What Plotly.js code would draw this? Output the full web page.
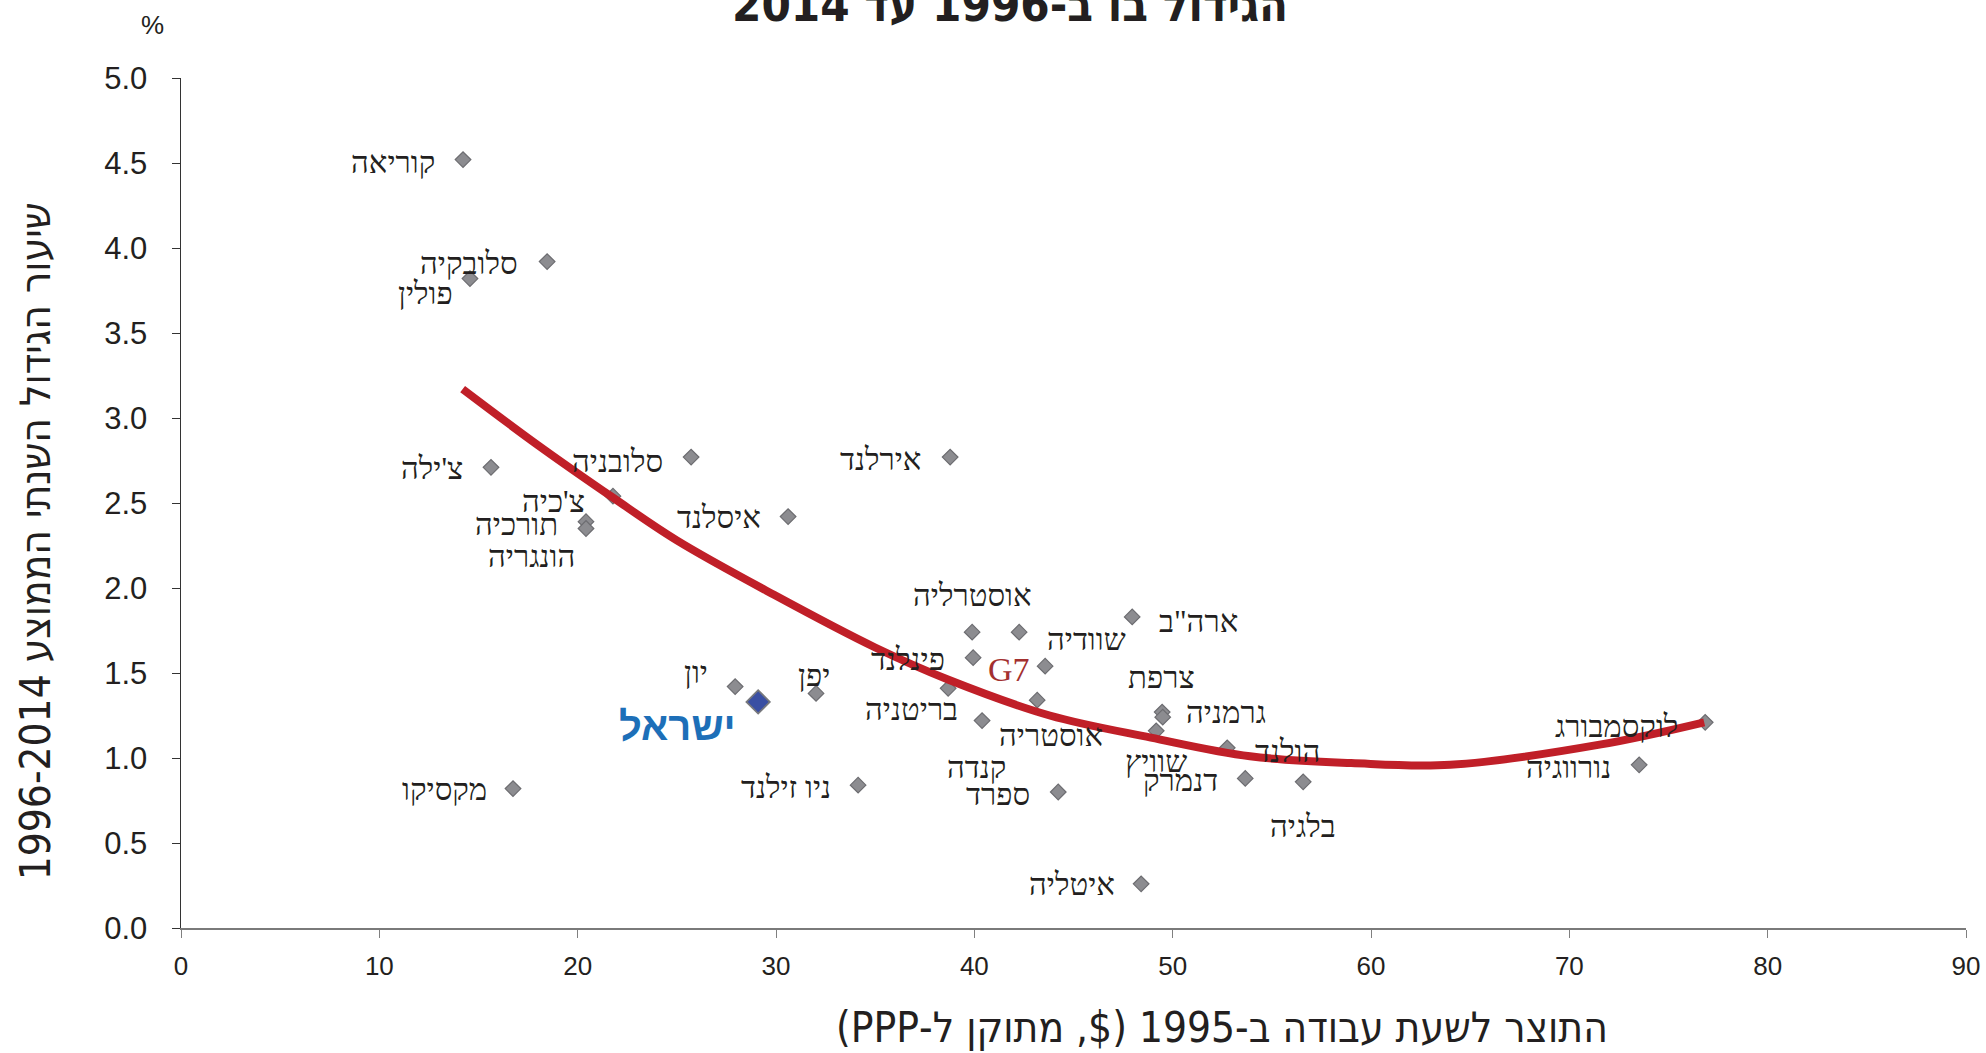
<!DOCTYPE html>
<html>
<head>
<meta charset="utf-8">
<script src="https://cdn.plot.ly/plotly-3.0.1.min.js"></script>
<style>html,body{margin:0;padding:0;background:#fff;}#chart{width:1986px;height:1053px;}</style>
</head>
<body>
<div id="chart"></div>
<script>
// ---- data ----
const countries = ["קוריאה","סלובקיה","פולין","צ'ילה","סלובניה","צ'כיה","תורכיה","הונגריה","איסלנד","אירלנד","אוסטרליה","שוודיה","ארה\"ב","פינלנד","בריטניה","קנדה","אוסטריה","יון","יפן","ניו זילנד","ספרד","מקסיקו","איטליה","צרפת","גרמניה","שוויץ","הולנד","דנמרק","בלגיה","לוקסמבורג","נורווגיה"];
const productivity1995 = [14.22,18.46,14.57,15.63,25.72,21.78,20.42,20.42,30.61,38.78,39.89,42.26,47.96,39.94,38.68,43.17,40.39,27.94,32.02,34.14,44.23,16.74,48.41,49.47,49.5,49.17,52.75,53.66,56.58,76.85,73.52];
const growth = [4.52,3.92,3.82,2.71,2.77,2.54,2.39,2.35,2.42,2.77,1.74,1.74,1.83,1.59,1.41,1.34,1.22,1.42,1.38,0.84,0.80,0.82,0.26,1.27,1.24,1.16,1.06,0.88,0.86,1.21,0.96];
const israelName = ["ישראל"];
const israelX = [29.10];
const israelY = [1.33];
const g7Name = ["G7"];
const g7X = [43.57];
const g7Y = [1.54];
// trend line
const trendX = [14.2,18,21.8,25,29.9,35,38.7,43.8,48.9,53.9,59,64,71.6,76.8];
const trendY = [3.17,2.84,2.53,2.28,1.96,1.65,1.46,1.25,1.12,1.01,0.97,0.96,1.08,1.21];
const xTicks = [0,10,20,30,40,50,60,70,80,90];
const yTicks = [0,0.5,1,1.5,2,2.5,3,3.5,4,4.5,5];

// ---- label placement (layout only) ----
const labelPos = [
 ["right",-26,-3],["right",-27,-2],["right",-15,-15],["right",-26,-1],["right",-26,-4],
 ["right",-26,-5],["right",-26,-3],["right",-9,-28],["right",-25,-1],["right",-27,-2],
 ["center",0,37],["left",26,-7],["left",25,-5],["right",-26,-2],["right",12,-21],
 ["right",-29,-67],["left",15,-15],["right",-25,14],["center",-2,18],["right",-25,-2],
 ["right",-26,-2],["right",-24,-1],["right",-24,-1],["center",-1,35],["left",21,5],
 ["center",0,-31],["left",26,-4],["right",-25,-2],["center",0,-45],["right",-25,-4],["right",-26,-3]
];

const RLE = "\u202B", PDF = "\u202C";
const rtl = s => RLE + s + PDF;

const labelFont = {family:"Liberation Serif, DejaVu Serif, serif", size:31, color:"#231f20"};

const annotations = countries.map((c,i)=>({
  x: productivity1995[i], y: growth[i], xref:"x", yref:"y",
  text: rtl(c), showarrow:false,
  xanchor: labelPos[i][0], yanchor:"middle",
  xshift: labelPos[i][1], yshift: labelPos[i][2],
  font: labelFont
}));
annotations.push({x:israelX[0], y:israelY[0], xref:"x", yref:"y", text:"<b>"+rtl(israelName[0])+"</b>", showarrow:false,
  xanchor:"right", yanchor:"middle", xshift:-20, yshift:-24,
  font:{family:"Liberation Sans, DejaVu Sans, sans-serif", size:40, color:"#1d6fb8"}});
annotations.push({x:g7X[0], y:g7Y[0], xref:"x", yref:"y", text:g7Name[0], showarrow:false,
  xanchor:"right", yanchor:"middle", xshift:-13, yshift:-3,
  font:{family:"Liberation Serif, serif", size:34, color:"#a3302f"}});
// axis titles and unit
annotations.push({xref:"paper", yref:"paper", x:-0.0818, y:0.455, xanchor:"center", yanchor:"middle",
  textangle:-90, showarrow:false, text: rtl("שיעור הגידול השנתי הממוצע 1996-2014"),
  font:{family:"DejaVu Sans Condensed, Liberation Sans Narrow, sans-serif", size:42, color:"#231f20"}});
annotations.push({xref:"paper", yref:"paper", x:0.583, y:-0.1176, xanchor:"center", yanchor:"middle",
  showarrow:false, text: rtl("התוצר לשעת עבודה ב-1995 ($, מתוקן ל-PPP)"),
  font:{family:"DejaVu Sans Condensed, Liberation Sans Narrow, sans-serif", size:42, color:"#231f20"}});
annotations.push({xref:"paper", yref:"paper", x:-0.0157, y:1.0624, xanchor:"center", yanchor:"middle",
  showarrow:false, text:"%", font:{family:"Liberation Sans, sans-serif", size:26, color:"#231f20"}});

const traces = [
  {type:"scatter", mode:"markers", x:productivity1995, y:growth, hoverinfo:"skip",
   marker:{symbol:"diamond", size:12, color:"#8c8c90", line:{color:"#6c6c70", width:1.2}}},
  {type:"scatter", mode:"markers", x:g7X, y:g7Y, hoverinfo:"skip",
   marker:{symbol:"diamond", size:12, color:"#8c8c90", line:{color:"#6c6c70", width:1.2}}},
  {type:"scatter", mode:"markers", x:israelX, y:israelY, hoverinfo:"skip",
   marker:{symbol:"diamond", size:18, color:"#3a4fa3", line:{color:"#77787c", width:1.8}}},
  {type:"scatter", mode:"lines", x:trendX, y:trendY, hoverinfo:"skip",
   line:{color:"#c01f28", width:8, shape:"spline", smoothing:1}}
];

const layout = {
  width:1986, height:1053,
  margin:{l:181, r:20, t:78, b:125},
  paper_bgcolor:"#ffffff", plot_bgcolor:"#ffffff",
  showlegend:false,
  title:{text:"<b>"+rtl("הגידול בו ב-1996 עד 2014")+"</b>", x:0.5086, xanchor:"center", xref:"container",
    y:0.9953, yanchor:"middle",
    font:{family:"DejaVu Sans Condensed, Liberation Sans Narrow, sans-serif", size:47, color:"#231f20"}},
  xaxis:{range:[0,90], tickvals:xTicks, ticktext:xTicks.map(String), ticks:"outside", ticklen:8, tickcolor:"#808080",
    showline:true, linecolor:"#7a7a7a", linewidth:2, showgrid:false, zeroline:false,
    tickfont:{family:"Liberation Sans, sans-serif", size:26, color:"#231f20"}, ticklabelstandoff:6},
  yaxis:{range:[0,5], tickvals:yTicks, ticktext:yTicks.map(v=>v.toFixed(1)), ticks:"outside", ticklen:8, tickcolor:"#333",
    showline:true, linecolor:"#333", linewidth:1.5, showgrid:false, zeroline:false,
    tickfont:{family:"Liberation Sans, sans-serif", size:31, color:"#231f20"}, ticklabelstandoff:18},
  annotations: annotations
};

Plotly.newPlot("chart", traces, layout, {staticPlot:true});
</script>
</body>
</html>
